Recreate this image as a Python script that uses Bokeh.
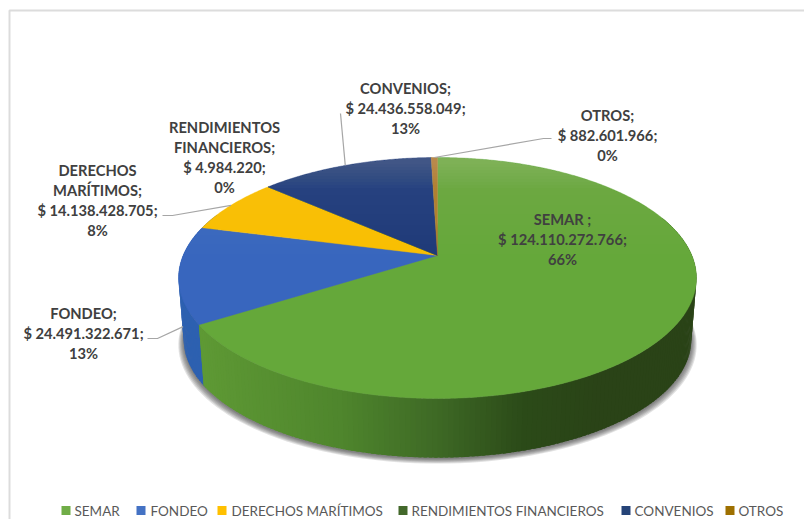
import numpy as np
from bokeh.plotting import figure
from bokeh.embed import file_html
from bokeh.resources import INLINE
from bokeh.core.properties import value

# ---------- data ----------
categories = ["SEMAR", "FONDEO", "DERECHOS MARÍTIMOS", "RENDIMIENTOS FINANCIEROS", "CONVENIOS", "OTROS"]
amounts = [124110272766, 24491322671, 14138428705, 4984220, 24436558049, 882601966]
name_lines = [["SEMAR ;"], ["FONDEO;"], ["DERECHOS", "MARÍTIMOS;"], ["RENDIMIENTOS", "FINANCIEROS;"], ["CONVENIOS;"], ["OTROS;"]]

# ---------- style / layout ----------
TOP = ["#65a83a", "#3866be", "#f9bf00", "#3f6b26", "#1f3a78", "#b07f2a"]
LEG = ["#70ad47", "#4472c4", "#ffc000", "#43682b", "#264478", "#9e7000"]
TXT = "#404040"
FONT = value("Lato")
CX, CY, A, B, K = 437.0, 255.0, 254.4, 116.3, 0.1867      # top disc perspective
BY, BS = 317.0, 0.98                                      # bottom disc
LABEL_POS = [(562, 218), (83, 312), (97, 169), (224, 126), (405, 87), (607, 114)]
LINE_H = 20
ELBOWS = [None, [(147, 338), (157, 338)], [(162, 215), (172, 215)], None, [(340, 113)], [(551, 138), (543, 138)]]
LEADER_DEPTH = [0, 0.85, 0, 0, 0, 0]
LEG_SQ = [61, 136, 217, 398, 621, 725]
LEG_TX = [74, 150, 231, 411, 634, 738]
LEG_Y = 510

W, H = 804, 519
p = figure(width=W, height=H, x_range=(0, W), y_range=(H, 0), output_backend="svg",
           toolbar_location=None, min_border=0, background_fill_color="white", border_fill_color="white")
p.axis.visible = False
p.grid.visible = False
p.outline_line_color = None


def top(t):
    t = np.radians(t)
    w = 1 + K * np.cos(t)
    return CX + A * np.sin(t) / w, CY - B * np.cos(t) / w


def bot(t):
    t = np.radians(t)
    w = 1 + K * np.cos(t)
    return CX + BS * A * np.sin(t) / w, BY - BS * B * np.cos(t) / w


frac = np.array(amounts, dtype=float) / sum(amounts)
edges = np.concatenate([[0], np.cumsum(frac)]) * 360.0

# frame
p.line([9, 9, W], [H, 10, 10], line_color="#dcdcdc", line_width=2)

# soft shadow below the side wall
tt = np.arange(0, 360, 2.0)
bx, by = bot(tt)
for g in (5.5, 4.5, 3.5, 2.5, 1.5, 0.5):
    p.patch(bx + np.sign(bx - CX) * g * np.abs(np.sin(np.radians(tt))), by + g * 0.9 + 1,
            fill_color="#303030", fill_alpha=0.14, line_color=None)

# side wall
SX = [200, 340, 430, 520, 600, 700]
SC = [(0x5f, 0x9a, 0x35), (0x4f, 0x86, 0x2d), (0x3f, 0x6b, 0x26), (0x2c, 0x4b, 0x19), (0x2a, 0x43, 0x17), (0x2a, 0x43, 0x17)]


def side_color(x):
    return "#%02x%02x%02x" % tuple(int(np.interp(x, SX, [c[i] for c in SC])) for i in range(3))


xs, ys, cols = [], [], []
for t in np.arange(292, edges[1] - 0.01, -1.0):
    a = np.array([t, t - 1.6])
    tx, ty = top(a); ux, uy = bot(a)
    xs.append([tx[0], tx[1], ux[1], ux[0]]); ys.append([ty[0], ty[1], uy[1], uy[0]])
    cols.append("#2d60b0")
for t in np.arange(70, edges[1], 1.0):
    a = np.array([t, min(t + 1.6, edges[1])])
    tx, ty = top(a); ux, uy = bot(a)
    xs.append([tx[0], tx[1], ux[1], ux[0]]); ys.append([ty[0], ty[1], uy[1], uy[0]])
    cols.append(side_color(ux.mean()))
p.patches(xs, ys, fill_color=cols, line_color=None)

# top face wedges
for i in range(6):
    tr = np.linspace(edges[i], edges[i + 1], max(2, int((edges[i + 1] - edges[i]) * 2) + 1))
    x, y = top(tr)
    p.patch(np.r_[CX, x], np.r_[CY, y], fill_color=TOP[i], line_color=TOP[i], line_width=0.4)

# sheen at the back of the top face
ft = np.arange(-180, 180.5, 0.5)
fx, fy = top(ft)
for yi, al in [(y, 0.016) for y in range(164, 191, 3)] + [(y, 0.009) for y in range(195, 265, 10)]:
    m = fy < yi
    p.patch(fx[m], fy[m], fill_color="white", fill_alpha=al, line_color=None)

# leader lines
for i, elbow in enumerate(ELBOWS):
    if elbow is None:
        continue
    mid = (edges[i] + edges[i + 1]) / 2
    ex, ey = top(mid)
    if LEADER_DEPTH[i]:
        bx2, by2 = bot(mid)
        ex += (bx2 - ex) * LEADER_DEPTH[i]
        ey += (by2 - ey) * LEADER_DEPTH[i]
    p.line([q[0] for q in elbow] + [ex], [q[1] for q in elbow] + [ey], line_color="#a6a6a6", line_width=1.2)

# data labels
for i in range(6):
    money = "$ " + f"{amounts[i]:,}".replace(",", ".") + ";"
    pct = f"{round(frac[i] * 100)}%"
    lines = name_lines[i] + [money, pct]
    lx, ly = LABEL_POS[i]
    p.text([lx] * len(lines), [ly + k * LINE_H for k in range(len(lines))], text=lines,
           text_font=FONT, text_font_style="bold", text_font_size="14.7px", text_color=TXT,
           text_align="center", text_baseline="middle")

# legend
p.rect([x + 4.5 for x in LEG_SQ], [LEG_Y] * 6, width=9, height=9, fill_color=LEG, line_color=None)
p.text(LEG_TX, [LEG_Y] * 6, text=categories, text_font=FONT, text_font_size="13.5px", text_color="#595959",
       text_align="left", text_baseline="middle")

open("out.html", "w").write(file_html(p, INLINE))
